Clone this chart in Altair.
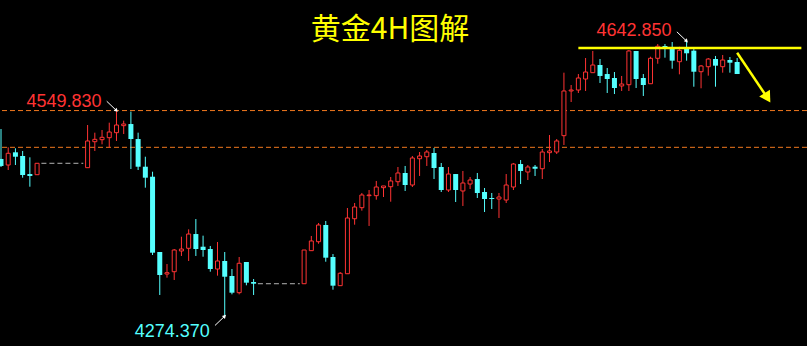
import altair as alt
import pandas as pd
import numpy as np

TITLE = "黄金4H图解"
RED = "#ff3333"
CYAN = "#55ffff"
ORANGE = "#f0781e"
YELLOW = "#ffff00"

# candle index (weekend gaps are missing indices)
idx = list(range(0, 6)) + list(range(12, 36)) + list(range(42, 103))

opens = [4485.0, 4476.9, 4493.9, 4489.0, 4464.8, 4463.9,
         4473.3, 4508.1, 4510.8, 4513.5, 4520.2, 4529.6, 4531.8, 4511.7, 4474.6, 4461.2,
         4360.3, 4330.8, 4333.9, 4361.7, 4365.3, 4384.4, 4367.4, 4364.3, 4337.5, 4348.3,
         4328.2, 4305.8, 4346.9, 4320.1,
         4317.8, 4362.1, 4374.1, 4396.5, 4353.6, 4315.2, 4331.2, 4404.9, 4419.7, 4435.8,
         4435.8, 4446.5, 4447.8, 4454.5, 4466.2, 4450.1, 4485.3, 4488.0, 4493.0, 4474.2,
         4443.4, 4464.8, 4442.1, 4451.4, 4458.1, 4440.7, 4432.7, 4431.3, 4430.0, 4447.4,
         4478.2, 4467.5, 4474.6, 4471.9, 4493.4, 4494.3, 4516.2, 4576.1, 4577.4, 4592.1,
         4600.6, 4610.9, 4598.8, 4593.5, 4582.8, 4584.5, 4629.7, 4593.5, 4585.8, 4619.9,
         4636.4, 4633.3, 4615.3, 4634.6, 4630.1, 4601.9, 4608.6, 4618.9, 4608.6, 4617.6,
         4614.9]
highs = [4525.1, 4500.6, 4499.3, 4495.7, 4487.2, 4479.2,
         4530.5, 4520.2, 4523.8, 4533.6, 4549.83, 4536.3, 4548.5, 4520.2, 4488.0, 4467.9,
         4360.3, 4344.2, 4364.3, 4380.8, 4390.7, 4404.5, 4382.2, 4368.4, 4373.7, 4360.3,
         4337.5, 4353.6, 4346.9, 4324.1,
         4363.0, 4381.8, 4399.2, 4401.9, 4357.6, 4333.5, 4419.3, 4426.0, 4439.4, 4443.4,
         4455.5, 4448.8, 4460.8, 4474.2, 4475.6, 4489.0, 4494.3, 4497.0, 4499.7, 4479.6,
         4474.2, 4464.8, 4468.9, 4460.8, 4466.2, 4446.1, 4439.4, 4439.4, 4464.8, 4479.6,
         4483.6, 4476.9, 4476.9, 4498.3, 4517.1, 4511.7, 4600.6, 4584.1, 4598.8, 4620.3,
         4629.7, 4618.9, 4606.9, 4601.5, 4596.2, 4631.0, 4629.7, 4598.8, 4622.0, 4639.0,
         4639.0, 4641.7, 4635.4, 4642.85, 4632.3, 4610.9, 4620.3, 4623.0, 4624.3, 4621.6,
         4620.3]
lows = [4474.2, 4470.2, 4476.9, 4459.9, 4447.8, 4463.9,
        4473.3, 4495.7, 4504.6, 4500.1, 4509.1, 4518.4, 4471.5, 4470.2, 4446.5, 4356.3,
        4302.7, 4325.9, 4322.8, 4355.0, 4348.3, 4355.0, 4354.0, 4333.9, 4328.6, 4274.37,
        4303.6, 4303.6, 4315.7, 4302.7,
        4317.8, 4362.1, 4371.4, 4347.3, 4309.8, 4315.2, 4331.2, 4396.9, 4415.7, 4395.2,
        4430.4, 4434.0, 4427.7, 4448.8, 4442.1, 4447.4, 4462.2, 4475.6, 4458.1, 4440.7,
        4440.7, 4427.3, 4422.0, 4444.7, 4432.7, 4413.9, 4417.9, 4405.9, 4426.0, 4443.4,
        4451.4, 4456.8, 4462.2, 4458.1, 4480.9, 4491.6, 4503.7, 4561.3, 4573.4, 4576.1,
        4600.6, 4586.8, 4573.4, 4572.0, 4576.1, 4576.1, 4580.1, 4569.4, 4585.8, 4612.6,
        4620.7, 4605.9, 4598.4, 4616.7, 4581.8, 4579.7, 4596.6, 4581.8, 4600.6, 4600.6,
        4598.8]
closes = [4475.6, 4492.6, 4488.0, 4463.5, 4462.2, 4479.2,
          4509.1, 4511.3, 4514.0, 4521.1, 4530.5, 4531.8, 4511.7, 4474.6, 4459.9, 4359.4,
          4329.5, 4332.6, 4363.0, 4364.3, 4384.4, 4364.3, 4363.0, 4337.5, 4348.3, 4327.2,
          4305.8, 4345.2, 4319.2, 4317.8,
          4363.0, 4375.1, 4396.5, 4352.7, 4315.2, 4331.8, 4405.9, 4420.6, 4436.7, 4436.7,
          4447.4, 4448.8, 4455.5, 4466.2, 4450.1, 4486.3, 4489.0, 4494.3, 4472.9, 4443.4,
          4464.8, 4443.4, 4452.8, 4456.8, 4439.4, 4431.3, 4431.3, 4434.0, 4450.1, 4478.2,
          4468.9, 4474.2, 4471.9, 4494.3, 4495.7, 4509.1, 4576.1, 4577.4, 4593.5, 4601.5,
          4610.9, 4596.2, 4592.1, 4580.1, 4585.4, 4629.7, 4592.1, 4584.1, 4619.9, 4636.0,
          4633.3, 4616.7, 4630.6, 4626.6, 4601.9, 4609.6, 4618.9, 4610.0, 4617.6, 4614.0,
          4598.8]

# reference levels
level_prices = [4549.83, 4500.6]
resist_price = 4633.7
resist_from, resist_to = 80.0, 110.9
gap_from = [5.6, 35.6]
gap_to = [11.4, 41.4]
gap_price = [4479.2, 4317.8]
# yellow arrow (index, price)
arrow_i = [102.0, 106.2]
arrow_p = [4627.4, 4567.0]

df = pd.DataFrame(dict(i=idx, o=opens, h=highs, l=lows, c=closes))
df["dir"] = np.where(df.c >= df.o, "up", "down")

XS = alt.Scale(domain=[-1 / 7.217, 806 / 7.217], nice=False, zero=False, padding=0)
YS = alt.Scale(domain=[4698 - 346 * 1.34, 4698.0], nice=False, zero=False, padding=0)
xq = lambda f: alt.X(f, type="quantitative", scale=XS, axis=None)
yq = lambda f: alt.Y(f, type="quantitative", scale=YS, axis=None)

levels = alt.Chart(pd.DataFrame({"p": level_prices})).mark_rule(
    color=ORANGE, strokeDash=[5, 3], strokeWidth=1).encode(y=yq("p"))

gaps = alt.Chart(pd.DataFrame({"a": gap_from, "b": gap_to, "p": gap_price})).mark_rule(
    color="#b4b4b4", strokeDash=[5, 3], strokeWidth=1).encode(x=xq("a"), x2="b", y=yq("p"))

base = alt.Chart(df)
wicks = base.mark_rule(strokeWidth=1).encode(
    x=xq("i"), y=yq("h"), y2="l",
    color=alt.Color("dir:N", scale=alt.Scale(domain=["up", "down"], range=[RED, CYAN]), legend=None))
up = base.transform_filter("datum.c >= datum.o").mark_bar(
    size=4, fill="black", stroke=RED, strokeWidth=1).encode(x=xq("i"), y=yq("o"), y2="c")
down = base.transform_filter("datum.c < datum.o").mark_bar(
    size=5, color=CYAN).encode(x=xq("i"), y=yq("o"), y2="c")

resist = alt.Chart(pd.DataFrame({"a": [resist_from], "b": [resist_to], "p": [resist_price]})).mark_rule(
    color=YELLOW, strokeWidth=2.5).encode(x=xq("a"), x2="b", y=yq("p"))

arr_df = pd.DataFrame({"i": [arrow_i[0]], "p": [arrow_p[0]], "i2": [arrow_i[1]], "p2": [arrow_p[1]]})
arrow_line = alt.Chart(arr_df).mark_rule(color=YELLOW, strokeWidth=2.5).encode(
    x=xq("i"), y=yq("p"), x2="i2", y2="p2")
arrow_head = alt.Chart(arr_df).mark_point(
    shape="triangle-up", angle=148, filled=True, size=160, color=YELLOW, opacity=1).encode(
    x=xq("i2"), y=yq("p2"))

# price labels at extremes
lab = pd.DataFrame({"i": [16, 95, 31], "p": [4549.83, 4642.85, 4274.37],
                    "t": ["4549.830", "4642.850", "4274.370"]})
def label(k, color, dy):
    d = lab.iloc[[k]]
    return alt.Chart(d).mark_text(align="right", baseline="alphabetic", dx=-15, dy=dy,
                                  font="Liberation Sans", fontSize=18, color=color).encode(
        x=xq("i"), y=yq("p"), text="t:N")

def white_arrow(k, sgn):
    d = lab.iloc[[k]].copy()
    d["i0"] = d["i"] - 1.35
    d["p0"] = d["p"] + sgn * 12.5
    line = alt.Chart(d).mark_rule(color="white", strokeWidth=1).encode(
        x=xq("i0"), y=yq("p0"), x2="i", y2="p")
    head = alt.Chart(d).mark_point(shape="triangle-up", angle=135 if sgn > 0 else 45,
                                   filled=True, size=18, color="white", opacity=1).encode(
        x=xq("i"), y=yq("p"))
    return line + head

labels = alt.layer(label(0, RED, -4), label(1, RED, -5), label(2, CYAN, 21),
                   white_arrow(0, 1), white_arrow(1, 1), white_arrow(2, -1))

title = alt.Chart(pd.DataFrame({"t": [TITLE]})).mark_text(
    font="Noto Sans CJK SC", fontSize=30, color=YELLOW, align="center", baseline="middle").encode(
    x=alt.value(390), y=alt.value(30), text="t:N")

chart = alt.layer(levels, gaps, wicks, up, down, resist, arrow_line, arrow_head, labels, title).properties(
    width=807, height=346, background="black", padding=0,
    autosize=alt.AutoSizeParams(type="none")).configure_view(stroke=None)

chart.save("out.html", embed_options={"renderer": "svg", "actions": False})
